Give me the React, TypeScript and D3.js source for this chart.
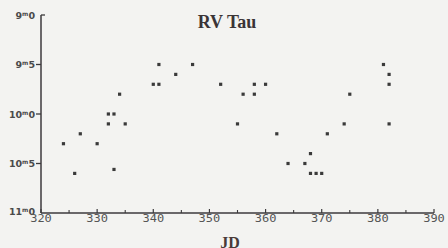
import React from "react";
import * as d3 from "d3";

const jd = [341, 340, 341, 334, 332, 333, 332, 335, 327, 324, 330, 326, 333, 347, 344, 352, 358, 360, 356, 358, 355, 362, 364, 381, 382, 382, 375, 374, 382, 371, 368, 367, 368, 369, 370];
const mag = [9.5, 9.7, 9.7, 9.8, 10.0, 10.0, 10.1, 10.1, 10.2, 10.3, 10.3, 10.6, 10.56, 9.5, 9.6, 9.7, 9.7, 9.7, 9.8, 9.8, 10.1, 10.2, 10.5, 9.5, 9.6, 9.7, 9.8, 10.1, 10.1, 10.2, 10.4, 10.5, 10.6, 10.6, 10.6];
const xTicks = [320, 330, 340, 350, 360, 370, 380, 390];
const xMinor = [325, 335, 345, 355, 365, 375, 385];
const yTicks = [9.0, 9.5, 10.0, 10.5, 11.0];
const yInt = ["9", "9", "10", "10", "11"];
const yDec = ["0", "5", "0", "5", "0"];

export default function App() {
  const W = 448, H = 248;
  const x = d3.scaleLinear().domain([320, 390]).range([41, 434]);
  const y = d3.scaleLinear().domain([9, 11]).range([15, 213]);
  const ax = "#3c3a3c";
  const ly = y(11) + 9;
  return (
    <svg width={W} height={H} style={{ position: "absolute", left: 0, top: 0 }}>
      <rect width={W} height={H} fill="#f3f3f1" />
      <text x={227} y={28} textAnchor="middle" fontFamily="Liberation Serif" fontWeight="bold" fontSize={18} fill="#3a3436">RV Tau</text>
      <line x1={x(320)} x2={x(320)} y1={y(9)} y2={y(11)} stroke={ax} strokeWidth={1.5} />
      <line x1={x(320)} x2={x(390)} y1={y(11)} y2={y(11)} stroke={ax} strokeWidth={1.5} />
      {yTicks.map((t, i) => (
        <g key={"y" + t}>
          {i === 0 ? (
            <line x1={x(320)} x2={x(320) + 4} y1={y(t)} y2={y(t)} stroke={ax} strokeWidth={1.3} />
          ) : i < yTicks.length - 1 ? (
            <line x1={x(320) - 5} x2={x(320)} y1={y(t)} y2={y(t)} stroke={ax} strokeWidth={1.3} />
          ) : null}
          <text x={35} y={y(t) + (i === yTicks.length - 1 ? 2 : 3.5)} textAnchor="end" fontFamily="DejaVu Sans" fontWeight="bold" fontSize={9.5} fill="#4a4a4a">
            {yInt[i]}
            <tspan fontSize={6} dy={-3}>m</tspan>
            <tspan dy={3}>{yDec[i]}</tspan>
          </text>
        </g>
      ))}
      {xTicks.map((t) => (
        <g key={"x" + t}>
          <line x1={x(t)} x2={x(t)} y1={y(11) - 4} y2={y(11)} stroke={ax} strokeWidth={1.2} />
          <text x={x(t)} y={ly} textAnchor="middle" fontFamily="DejaVu Sans Mono" fontSize={12} fill="#555" transform={`translate(${x(t)},${ly}) scale(1,0.92) translate(${-x(t)},${-ly})`}>{t}</text>
        </g>
      ))}
      {xMinor.map((t) => (
        <line key={"m" + t} x1={x(t)} x2={x(t)} y1={y(11) - 3} y2={y(11)} stroke={ax} strokeWidth={1.1} />
      ))}
      <text x={230} y={248} textAnchor="middle" fontFamily="Liberation Serif" fontWeight="bold" fontSize={16} fill="#4a3a38">JD</text>
      {jd.map((d, i) => (
        <rect key={i} x={x(d) - 1.6} y={y(mag[i]) - 1.6} width={3.2} height={3.2} fill="#3a3a3a" />
      ))}
    </svg>
  );
}
